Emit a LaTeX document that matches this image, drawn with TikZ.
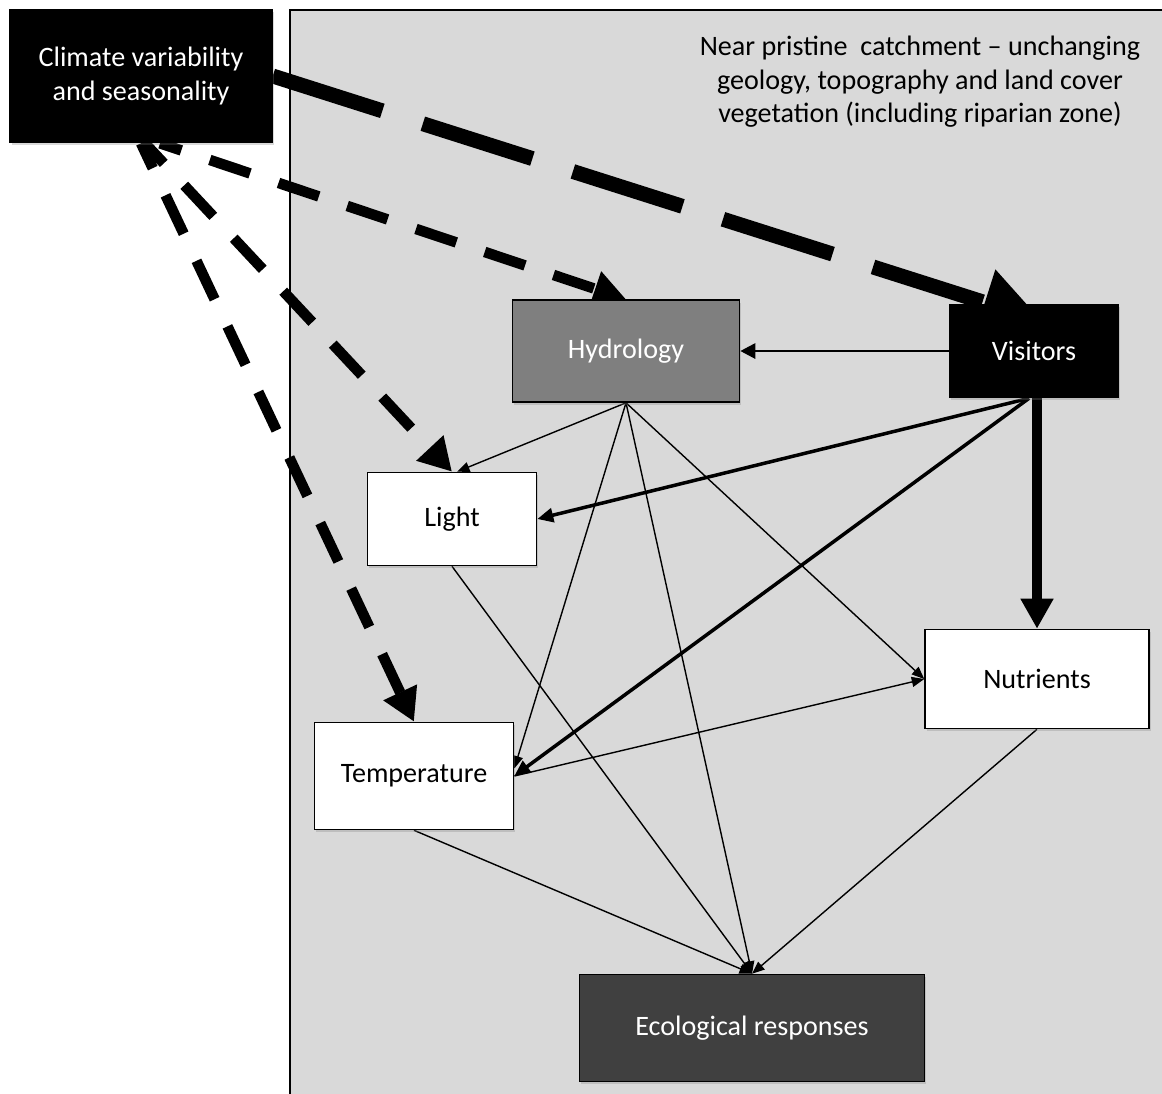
\documentclass[tikz,border=0pt]{standalone}
\usepackage{fontspec}
\setmainfont{Carlito}
\usepackage{xcolor}
\usepackage{tikz}
\usetikzlibrary{arrows.meta, shadows}
\pgfdeclarelayer{background}
\pgfdeclarelayer{edges}
\pgfsetlayers{background,edges,main}

\definecolor{areagray}{HTML}{D9D9D9}
\definecolor{hydrogray}{HTML}{7F7F7F}
\definecolor{ecogray}{HTML}{404040}

\begin{document}
\begin{tikzpicture}[
    x=0.02cm, y=-0.02cm,
    box/.style={rectangle, draw, line width=0.9pt, align=center, font=\fontsize{16}{19}\selectfont,
        drop shadow={shadow xshift=1pt, shadow yshift=-1.5pt, opacity=0.3}},
    lightbox/.style={box, fill=white},
    darkbox/.style={box, fill=black, text=white},
    link/.style={-{Triangle[length=0.25cm, width=0.2cm]}, line width=0.8pt},
    midlink/.style={-{Triangle[length=0.3cm, width=0.3cm]}, line width=1.6pt},
    boldlink/.style={-{Triangle[length=0.32cm, width=0.28cm]}, line width=2pt},
    heavylink/.style={-{Triangle[length=0.6cm, width=0.62cm]}, line width=5.7pt},
    dashlink/.style={-{Triangle[length=0.65cm, width=0.7cm]}, line width=6pt, dash pattern=on 0.85cm off 0.6cm},
    bigdashlink/.style={-{Triangle[length=1.2cm, width=1.3cm]}, line width=8.5pt, dash pattern=on 2.3cm off 0.85cm}
]
\useasboundingbox (0,0) rectangle (1162,1093);

\begin{pgfonlayer}{background}
\draw[fill=areagray, line width=0.9pt] (290,10) rectangle (1175,1105);
\end{pgfonlayer}

% boxes
\node[darkbox, minimum width=5.24cm, minimum height=2.66cm] (climate) at (141,76) {Climate variability\\and seasonality};
\node[box, fill=hydrogray, text=white, minimum width=4.54cm, minimum height=2.04cm] (hydro) at (626,351) {Hydrology};
\node[darkbox, minimum width=3.38cm, minimum height=1.86cm] (visitors) at (1034,351) {Visitors};
\node[lightbox, minimum width=3.38cm, minimum height=1.86cm] (light) at (452,519) {Light};
\node[lightbox, minimum width=4.48cm, minimum height=1.98cm] (nutrients) at (1037,679) {Nutrients};
\node[lightbox, minimum width=3.98cm, minimum height=2.14cm] (temp) at (414,776) {Temperature};
\node[box, fill=ecogray, text=white, minimum width=6.9cm, minimum height=2.14cm] (eco) at (752,1028) {Ecological responses};

\node[align=center, font=\fontsize{16}{19}\selectfont] (catchment) at (920,82)
    {Near pristine\ \ catchment -- unchanging\\geology, topography and land cover\\vegetation (including riparian zone)};

% arrows
\begin{pgfonlayer}{edges}
\draw[bigdashlink] (climate.east) -- ([xshift=0.16cm, yshift=-0.34cm]visitors.north);
\draw[dashlink, dash phase=0.4cm] ([xshift=0.38cm]climate.south) -- (hydro.north);
\draw[dashlink, dash phase=0.3cm] ([xshift=0.08cm]climate.south) -- (light.north);
\draw[dashlink, dash phase=0.3cm] (climate.south) -- (temp.north);

\draw[midlink] (visitors.west) -- (hydro.east);
\draw[boldlink] ([xshift=-0.1cm]visitors.south) -- (light.east);
\draw[boldlink] ([xshift=-0.1cm]visitors.south) -- (temp.east);
\draw[heavylink] (visitors.south -| nutrients.north) -- (nutrients.north);

\draw[link] (hydro.south) -- ([xshift=0.1cm]light.north);
\draw[link] (hydro.south) -- ([yshift=0.15cm]temp.east);
\draw[link] (hydro.south) -- (eco.north);
\draw[link] (hydro.south) -- (nutrients.west);
\draw[link] (light.south) -- (eco.north);
\draw[link] (temp.east) -- (nutrients.west);
\draw[link] (temp.south) -- (eco.north);
\draw[link] (nutrients.south) -- (eco.north);
\end{pgfonlayer}
\end{tikzpicture}
\end{document}
